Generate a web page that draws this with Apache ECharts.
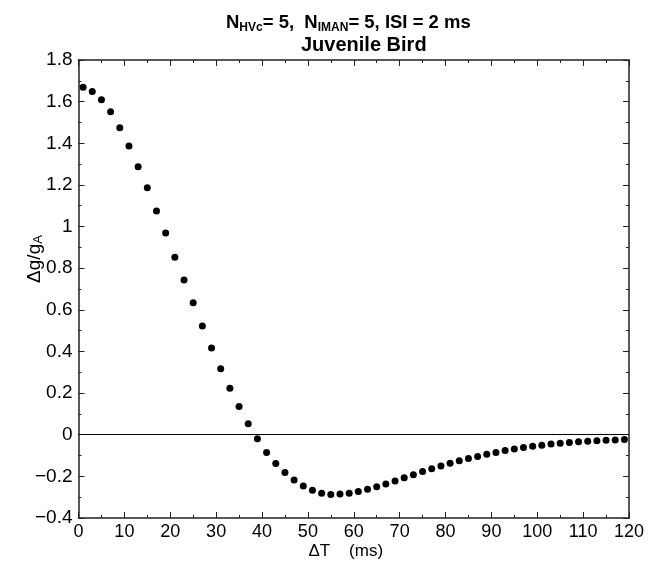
<!DOCTYPE html>
<html>
<head>
<meta charset="utf-8">
<script src="https://cdn.jsdelivr.net/npm/echarts@6/dist/echarts.min.js"></script>
<style>
  html, body { margin: 0; padding: 0; background: #fff; }
  #chart { width: 656px; height: 566px; }
</style>
</head>
<body>
<div id="chart"></div>
<script>
// Time offsets ΔT (ms)
const deltaT = [
  1, 3, 5, 7, 9, 11, 13, 15, 17, 19,
  21, 23, 25, 27, 29, 31, 33, 35, 37, 39,
  41, 43, 45, 47, 49, 51, 53, 55, 57, 59,
  61, 63, 65, 67, 69, 71, 73, 75, 77, 79,
  81, 83, 85, 87, 89, 91, 93, 95, 97, 99,
  101, 103, 105, 107, 109, 111, 113, 115, 117, 119
];
// Relative conductance change Δg/g_A
const dgOverGA = [
  1.669, 1.649, 1.609, 1.551, 1.475, 1.387, 1.287, 1.186, 1.075, 0.969,
  0.853, 0.743, 0.634, 0.522, 0.416, 0.317, 0.223, 0.135, 0.053, -0.019,
  -0.085, -0.138, -0.182, -0.218, -0.246, -0.267, -0.281, -0.287, -0.285, -0.281,
  -0.273, -0.262, -0.250, -0.237, -0.222, -0.207, -0.192, -0.177, -0.163, -0.150,
  -0.137, -0.125, -0.114, -0.104, -0.094, -0.085, -0.076, -0.068, -0.061, -0.055,
  -0.050, -0.045, -0.041, -0.037, -0.034, -0.031, -0.029, -0.027, -0.025, -0.023
];
const xTicks = [0, 10, 20, 30, 40, 50, 60, 70, 80, 90, 100, 110, 120];
const yTicks = [-0.4, -0.2, 0, 0.2, 0.4, 0.6, 0.8, 1, 1.2, 1.4, 1.6, 1.8];

const FONT = 'Liberation Sans, Arial, Helvetica, sans-serif';
const INK = '#000';
const FRAME = '#222';

const points = deltaT.map((t, i) => [t, dgOverGA[i]]);

function fmtY(v) {
  const r = Math.round(v * 10) / 10;
  return r < 0 ? '\u2212' + Math.abs(r) : String(r);
}

const commonAxisLine = { show: true, onZero: false, lineStyle: { color: FRAME, width: 1.5 } };
const commonTick = { show: true, inside: true, length: 6, lineStyle: { color: FRAME, width: 1 } };
const commonMinor = { show: true, splitNumber: 2, length: 3, lineStyle: { color: FRAME, width: 1 } };

const chart = echarts.init(document.getElementById('chart'), null, { renderer: 'canvas' });
chart.setOption({
  animation: false,
  backgroundColor: '#fff',
  title: [
    {
      text: '{b|N}{s|HVc}{b|= 5,  N}{s|IMAN}{b|= 5, ISI = 2 ms}',
      left: 221, top: 7,
      textStyle: {
        fontFamily: FONT,
        rich: {
          b: { fontSize: 18.5, fontWeight: 'bold', color: INK, fontFamily: FONT, lineHeight: 22 },
          s: { fontSize: 12, fontWeight: 'bold', color: INK, fontFamily: FONT, lineHeight: 12, verticalAlign: 'bottom' }
        }
      }
    },
    {
      text: 'Juvenile Bird',
      left: 296, top: 30,
      textStyle: { fontSize: 20, fontWeight: 'bold', color: INK, fontFamily: FONT }
    }
  ],
  grid: { left: 78.5, right: 27, top: 60, bottom: 48, containLabel: false },
  xAxis: [
    {
      type: 'value', position: 'bottom', min: 0, max: 120, interval: 10,
      name: '\u0394T    (ms)', nameLocation: 'middle', nameGap: 25, nameMoveOverlap: false,
      nameTextStyle: { fontSize: 17, color: INK, fontFamily: FONT, padding: [0, 16, 0, 0] },
      axisLine: commonAxisLine, axisTick: commonTick, minorTick: commonMinor,
      splitLine: { show: false },
      axisLabel: {
        fontSize: 18, color: INK, fontFamily: FONT, margin: 5,
        formatter: v => (xTicks.includes(v) ? String(v) : '')
      }
    },
    {
      type: 'value', position: 'top', min: 0, max: 120, interval: 10,
      axisLine: commonAxisLine, axisTick: commonTick, minorTick: commonMinor,
      splitLine: { show: false }, axisLabel: { show: false }
    }
  ],
  yAxis: [
    {
      type: 'value', position: 'left', min: -0.4, max: 1.8, interval: 0.2,
      name: '{d|\u0394g/g}{s|A}', nameLocation: 'middle', nameGap: 34, nameRotate: 90,
      nameMoveOverlap: false,
      nameTextStyle: {
        padding: [0, 0, 0, 60],
        rich: {
          d: { fontSize: 19, color: INK, fontFamily: FONT, lineHeight: 20 },
          s: { fontSize: 13, color: INK, fontFamily: FONT, lineHeight: 13, verticalAlign: 'bottom' }
        }
      },
      axisLine: commonAxisLine, axisTick: commonTick, minorTick: commonMinor,
      splitLine: { show: false },
      axisLabel: {
        fontSize: 19, color: INK, fontFamily: FONT, margin: 6,
        formatter: v => fmtY(v)
      }
    },
    {
      type: 'value', position: 'right', min: -0.4, max: 1.8, interval: 0.2,
      axisLine: commonAxisLine, axisTick: commonTick, minorTick: commonMinor,
      splitLine: { show: false }, axisLabel: { show: false }
    }
  ],
  series: [
    {
      type: 'scatter',
      xAxisIndex: 0, yAxisIndex: 0,
      data: points,
      symbol: 'circle', symbolSize: 7,
      itemStyle: { color: INK, opacity: 1 },
      markLine: {
        silent: true, symbol: ['none', 'none'],
        label: { show: false },
        lineStyle: { color: INK, width: 1, type: 'solid' },
        data: [{ yAxis: 0 }]
      }
    }
  ]
});
</script>
</body>
</html>
